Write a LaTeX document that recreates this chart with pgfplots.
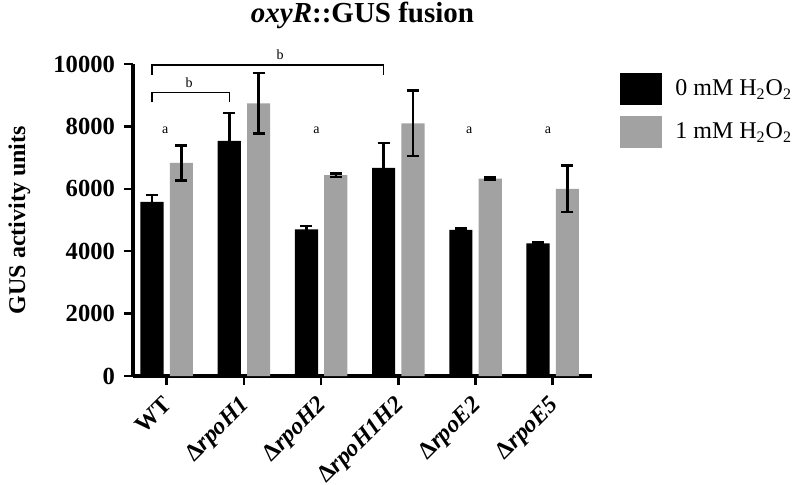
\documentclass[border=0pt]{standalone}
\usepackage{fontspec}
\setmainfont{Liberation Serif}
\usepackage{pgfplots}
\usepackage{pgfplotstable}
\pgfplotsset{compat=1.18}
\definecolor{bargray}{RGB}{162,162,162}

% x = strain index, y = mean GUS units, e = error
\pgfplotstableread{
x y e
0 5580 220
1 7540 890
2 4700 100
3 6670 800
4 4680 40
5 4250 30
}\zeromM
\pgfplotstableread{
x y e
0 6830 560
1 8740 970
2 6435 50
3 8100 1050
4 6330 30
5 6000 740
}\onemM

\begin{document}
\begin{tikzpicture}
\begin{axis}[
    name=ax,
    width=229.5pt, height=156pt, scale only axis,
    xmin=-0.437, xmax=5.509, ymin=0, ymax=10000,
    axis lines=left,
    axis line style={-, line width=2pt},
    clip=false,
    xtick={0,1,2,3,4,5},
    xticklabels={WT, Δ\textit{rpoH1}, Δ\textit{rpoH2}, Δ\textit{rpoH1H2}, Δ\textit{rpoE2}, Δ\textit{rpoE5}},
    ytick={0,2000,4000,6000,8000,10000},
    scaled y ticks=false,
    /pgf/number format/1000 sep={},
    /pgf/number format/assume math mode=true,
    tick align=outside,
    major tick length=4.5pt,
    tick style={line width=1.25pt, black},
    yticklabel style={font=\fontsize{12.3}{14}\selectfont\bfseries, xshift=-1pt},
    xticklabel style={font=\fontsize{12}{14}\selectfont\bfseries, xshift=-2.5pt, rotate=45, anchor=north east},
    ylabel={GUS activity units},
    ylabel style={font=\fontsize{12}{14}\selectfont\bfseries, at={(axis description cs:-0.235,0.5)}, anchor=base},
    title={\textit{oxyR}::GUS fusion},
    title style={font=\fontsize{14.5}{17}\selectfont\bfseries, at={(axis description cs:0.5,1)}, anchor=base, yshift=15pt},
    legend style={at={(1.061,0.971)}, anchor=north west, draw=none, fill=none,
        inner sep=0pt, row sep=5.5pt, column sep=6.5pt,
        font=\fontsize{12}{14}\selectfont, nodes={inner sep=0pt}},
    legend cell align=left,
]
\addplot[ybar, bar width=0.30, bar shift=0, fill=black, draw=none,
    legend image code/.code={\fill[black] (0pt,-8pt) rectangle (21pt,8pt);},
    error bars/.cd, y dir=both, y explicit,
    error bar style={draw=black, line width=1.25pt},
    error mark options={rotate=90, draw=black, line width=1.25pt, mark size=3pt}]
    table[x expr=\thisrow{x}-0.19, y=y, y error=e] {\zeromM};
\addlegendentry{0 mM H\textsubscript{2}O\textsubscript{2}}

\addplot[ybar, bar width=0.30, bar shift=0, fill=bargray, draw=none,
    legend image code/.code={\fill[bargray] (0pt,-8pt) rectangle (21pt,8pt);},
    error bars/.cd, y dir=both, y explicit,
    error bar style={draw=black, line width=1.25pt},
    error mark options={rotate=90, draw=black, line width=1.25pt, mark size=3pt}]
    table[x expr=\thisrow{x}+0.19, y=y, y error=e] {\onemM};
\addlegendentry{1 mM H\textsubscript{2}O\textsubscript{2}}

% significance letters
\node[font=\fontsize{7}{8}\selectfont] at (axis cs:-0.02,7860) {a};
\node[font=\fontsize{7}{8}\selectfont] at (axis cs:1.94,7860) {a};
\node[font=\fontsize{7}{8}\selectfont] at (axis cs:3.92,7860) {a};
\node[font=\fontsize{7}{8}\selectfont] at (axis cs:4.94,7860) {a};

% brackets
\draw[line width=0.6pt] (axis cs:-0.19,8770) -- (axis cs:-0.19,9090) -- (axis cs:0.81,9090) -- (axis cs:0.81,8770);
\node[font=\fontsize{7}{8}\selectfont] at (axis cs:0.29,9413) {b};
\draw[line width=0.6pt] (axis cs:-0.19,9647) -- (axis cs:-0.19,9968) -- (axis cs:2.81,9968) -- (axis cs:2.81,9647);
\node[font=\fontsize{7}{8}\selectfont] at (axis cs:1.47,10288) {b};
\end{axis}
\pgfresetboundingbox
\path[use as bounding box] (ax.south west) ++(-66.5pt,-54pt) rectangle ++(400pt,242pt);
\end{tikzpicture}
\end{document}
